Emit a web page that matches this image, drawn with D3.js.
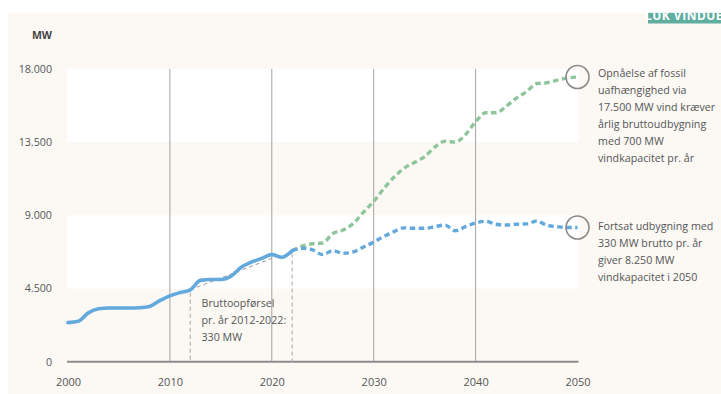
<!DOCTYPE html>
<html>
<head>
<meta charset="utf-8">
<script src="https://cdn.jsdelivr.net/npm/d3@7"></script>
<style>
  html, body { margin: 0; padding: 0; background: #ffffff; }
  svg { display: block; font-family: "Open Sans", "Lato", sans-serif; }
</style>
</head>
<body>
<svg id="chart" width="721" height="394"></svg>
<script>
// Installed wind capacity in Denmark (MW)
const histYears = d3.range(2000, 2023);
const histValues = [2400, 2480, 3000, 3250, 3300, 3300, 3300, 3320, 3400, 3750, 4050,
                    4250, 4420, 5000, 5050, 5050, 5250, 5800, 6120, 6350, 6580, 6420, 6830];

const projYears = d3.range(2022, 2051);
// Continued build-out at 330 MW gross per year
const baseValues = [6830, 6970, 6870, 6580, 6830, 6660, 6750, 7050, 7350, 7700, 8000,
                    8230, 8200, 8200, 8300, 8400, 8050, 8300, 8530, 8630, 8450,
                    8400, 8450, 8470, 8650, 8380, 8300, 8250, 8250];
// Build-out at 700 MW gross per year towards 17.500 MW
const fossilFreeValues = [6830, 7100, 7250, 7300, 7880, 8100, 8500, 9200, 9850, 10650, 11350,
                          11900, 12250, 12600, 13200, 13550, 13500, 13950, 14750, 15300, 15300,
                          15700, 16200, 16600, 17100, 17150, 17300, 17450, 17500];

// Gross installation trend 2012-2020
const trendYears = [2012, 2020];
const trendValues = [4420, 6350];
const markerYears = [2012, 2022];

const yTicks = [0, 4500, 9000, 13500, 18000];
const xTicks = [2000, 2010, 2020, 2030, 2040, 2050];
const gridYears = [2010, 2020, 2030, 2040];
const bands = [[4500, 9000], [13500, 18000]];

const noteTrend = ["Bruttoopførsel", "pr. år 2012-2022:", "330 MW"];
const noteFossil = ["Opnåelse af fossil", "uafhængighed via", "17.500 MW vind kræver",
                    "årlig bruttoudbygning", "med 700 MW", "vindkapacitet pr. år"];
const noteBase = ["Fortsat udbygning med", "330 MW brutto pr. år", "giver 8.250 MW",
                  "vindkapacitet i 2050"];

const blue = "#62a9dd";
const green = "#8ec59b";
const textCol = "#555555";

const svg = d3.select("#chart");
const x = d3.scaleLinear().domain([2000, 2050]).range([68, 577.5]);
const y = d3.scaleLinear().domain([0, 18000]).range([361.7, 68.9]);

const da = d3.formatLocale({ decimal: ",", thousands: ".", grouping: [3], currency: ["", " kr"] });
const fmt = da.format(",");

// page background
svg.append("rect").attr("x", 0).attr("y", 0).attr("width", 721).attr("height", 394).attr("fill", "#ffffff");
svg.append("rect").attr("x", 8).attr("y", 0).attr("width", 713).attr("height", 394).attr("fill", "#fcf9f5");

// close button
svg.append("rect").attr("x", 648).attr("y", 0).attr("width", 73).attr("height", 23.5).attr("fill", "#5fae9f");
svg.append("text").attr("x", 684).attr("y", 20).attr("text-anchor", "middle")
  .attr("fill", "#ffffff").attr("font-size", 12).attr("font-weight", 700)
  .attr("letter-spacing", 0.5).text("LUK VINDUE");
svg.append("rect").attr("x", 0).attr("y", 0).attr("width", 721).attr("height", 12.8).attr("fill", "#ffffff");

// alternating bands
svg.selectAll("rect.band").data(bands).join("rect").attr("class", "band")
  .attr("x", x(2000) - 1).attr("width", x(2050) - x(2000) + 2)
  .attr("y", d => y(d[1])).attr("height", d => y(d[0]) - y(d[1]))
  .attr("fill", "#ffffff");

// vertical grid
svg.selectAll("line.grid").data(gridYears).join("line").attr("class", "grid")
  .attr("x1", d => x(d)).attr("x2", d => x(d))
  .attr("y1", y(18000)).attr("y2", y(0))
  .attr("stroke", "#a3a3a3").attr("stroke-width", 1);

// y axis
const yAxis = svg.append("g").attr("transform", `translate(${x(2000)},0)`)
  .call(d3.axisLeft(y).tickValues(yTicks).tickFormat(fmt).tickSize(0).tickPadding(16));
yAxis.select(".domain").remove();
yAxis.selectAll("text").attr("font-size", 10.7).attr("fill", textCol)
  .attr("font-family", "'Open Sans', sans-serif");

svg.append("text").attr("x", 52).attr("y", 39).attr("text-anchor", "end")
  .attr("font-size", 10.5).attr("font-weight", 700).attr("fill", "#444").text("MW");

// x axis
const xAxis = svg.append("g").attr("transform", `translate(0,${y(0)})`)
  .call(d3.axisBottom(x).tickValues(xTicks).tickFormat(d3.format("d")).tickSize(0).tickPadding(17));
xAxis.select(".domain").remove();
xAxis.selectAll("text").attr("font-size", 11).attr("fill", textCol)
  .attr("font-family", "'Open Sans', sans-serif");
svg.append("line").attr("x1", x(2000) - 1).attr("x2", x(2050) + 1)
  .attr("y1", y(0)).attr("y2", y(0)).attr("stroke", "#8c8c8c").attr("stroke-width", 2);

// marker lines at 2012 and 2022
const histAt = yr => histValues[histYears.indexOf(yr)];
svg.selectAll("line.marker").data(markerYears).join("line").attr("class", "marker")
  .attr("x1", d => x(d)).attr("x2", d => x(d))
  .attr("y1", d => y(histAt(d)) + 3).attr("y2", y(0))
  .attr("stroke", "#b5b5b5").attr("stroke-width", 1.2).attr("stroke-dasharray", "4,3");

// trend line
svg.append("path")
  .attr("d", d3.line().x((d, i) => x(trendYears[i])).y(d => y(d))(trendValues))
  .attr("fill", "none").attr("stroke", "#9a9a9a").attr("stroke-width", 1).attr("stroke-dasharray", "4,3");

const line = years => d3.line().x((d, i) => x(years[i])).y(d => y(d)).curve(d3.curveMonotoneX);

// projections
svg.append("path").attr("d", line(projYears)(fossilFreeValues))
  .attr("fill", "none").attr("stroke", green).attr("stroke-width", 3.4)
  .attr("stroke-dasharray", "5.5,3.5");
svg.append("path").attr("d", line(projYears)(baseValues))
  .attr("fill", "none").attr("stroke", blue).attr("stroke-width", 3.4)
  .attr("stroke-dasharray", "5.5,3.5");

// history
svg.append("path").attr("d", line(histYears)(histValues))
  .attr("fill", "none").attr("stroke", blue).attr("stroke-width", 3.6)
  .attr("stroke-linejoin", "round").attr("stroke-linecap", "round");

// end circles
const ends = [fossilFreeValues[fossilFreeValues.length - 1], baseValues[baseValues.length - 1]];
svg.selectAll("circle.end").data(ends).join("circle").attr("class", "end")
  .attr("cx", x(2050)).attr("cy", d => y(d)).attr("r", 11.5)
  .attr("fill", "none").attr("stroke", "#8a8a8a").attr("stroke-width", 1.6);

// annotations
function note(lines, x0, y0, step) {
  const t = svg.append("text").attr("font-size", 10.7).attr("fill", textCol);
  lines.forEach((s, i) => t.append("tspan").attr("x", x0).attr("y", y0 + i * step).text(s));
}
note(noteTrend, 201.5, 306.5, 17.2);
note(noteFossil, 598, 77.3, 17);
note(noteBase, 598, 229.8, 17.1);
</script>
</body>
</html>
